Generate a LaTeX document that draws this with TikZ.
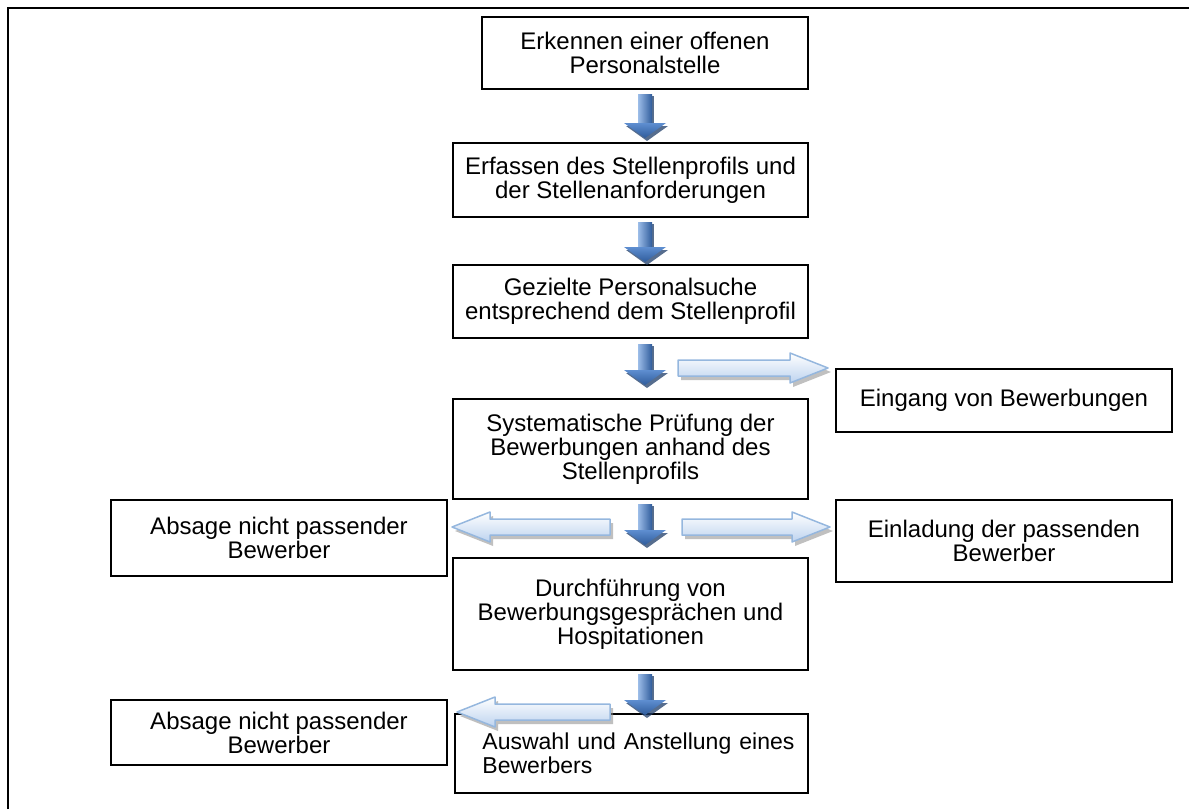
\documentclass[tikz,border=0pt]{standalone}
\usepackage{fontspec}
\setmainfont{Liberation Sans}
\definecolor{arrlight}{HTML}{9CBDE8}
\definecolor{arrmid}{HTML}{5E8ED0}
\definecolor{arrdark}{HTML}{2F5C9C}
\definecolor{arrshadow}{HTML}{1E3C68}
\definecolor{hollowline}{HTML}{95B7DE}
\definecolor{hollowfill}{HTML}{BDD3EF}
\tikzset{
  box/.style={draw=black, line width=1.5pt, fill=white, inner sep=0pt, align=center,
    font=\fontsize{24}{24}\selectfont},
  plaintext/.style={inner sep=0pt, font=\fontsize{23}{24}\selectfont},
  shaftshade/.style={left color=arrlight, right color=arrdark},
  headshade/.style={top color=arrmid, bottom color=arrdark},
  dshadow/.style={fill=arrshadow, opacity=0.75},
  hollowshade/.style={top color=white, bottom color=hollowfill, draw=hollowline, line width=1.5pt, line join=round},
  hshadow/.style={fill=black!45, opacity=0.55},
}
% down arrow: centre x, top y, tip y
\newcommand\mydarrow[3]{%
  \fill[dshadow] ({#1-21+2},{#3-15+3}) -- ({#1+21+2},{#3-15+3}) -- ({#1+2},{#3+3}) -- cycle;
  \fill[dshadow] ({#1+7},{#2+2}) rectangle ({#1+9},{#3-15});
  \shade[shaftshade] ({#1-7},{#2}) rectangle ({#1+7},{#3-14});
  \shade[headshade] ({#1-21},{#3-15}) -- ({#1+21},{#3-15}) -- (#1,#3) -- cycle;
}
% right hollow arrow: tail x, tip x, y
\newcommand\myrarrow[3]{%
  \fill[hshadow] ({#1+3},{#3-8+4}) -- ({#2-38+3},{#3-8+4}) -- ({#2-38+3},{#3-15+4}) -- ({#2+3},{#3+4})
     -- ({#2-38+3},{#3+15+4}) -- ({#2-38+3},{#3+8+4}) -- ({#1+3},{#3+8+4}) -- cycle;
  \shade[hollowshade] (#1,{#3-8}) -- ({#2-38},{#3-8}) -- ({#2-38},{#3-15}) -- (#2,#3)
     -- ({#2-38},{#3+15}) -- ({#2-38},{#3+8}) -- (#1,{#3+8}) -- cycle;
}
% left hollow arrow: tail x, tip x, y
\newcommand\mylarrow[3]{%
  \fill[hshadow] ({#1+3},{#3-8+4}) -- ({#2+38+3},{#3-8+4}) -- ({#2+38+3},{#3-15+4}) -- ({#2+3},{#3+4})
     -- ({#2+38+3},{#3+15+4}) -- ({#2+38+3},{#3+8+4}) -- ({#1+3},{#3+8+4}) -- cycle;
  \shade[hollowshade] (#1,{#3-8}) -- ({#2+38},{#3-8}) -- ({#2+38},{#3-15}) -- (#2,#3)
     -- ({#2+38},{#3+15}) -- ({#2+38},{#3+8}) -- (#1,{#3+8}) -- cycle;
}
\begin{document}
\begin{tikzpicture}[x=1pt,y=-1pt]
\useasboundingbox (0,0) rectangle (1189,809);
% outer frame (left and top only)
\draw[line width=2.5pt] (8,809) -- (8,8) -- (1189,8);

% boxes
\node[box, minimum width=326pt, minimum height=72pt] (b1) at (645,53) {Erkennen einer offenen\\Personalstelle};
\node[box, minimum width=355pt, minimum height=74pt] (b2) at (630.5,180) {Erfassen des Stellenprofils und\\der Stellenanforderungen};
\node[box, minimum width=355pt, minimum height=73pt] (b3) at (630.5,301.5) {Gezielte Personalsuche\\entsprechend dem Stellenprofil};
\node[box, minimum width=336pt, minimum height=63pt] (b4) at (1004,400.5) {Eingang von Bewerbungen};
\node[box, minimum width=355pt, minimum height=100pt] (b5) at (630.5,449) {Systematische Prüfung der\\Bewerbungen anhand des\\Stellenprofils};
\node[box, minimum width=336pt, minimum height=76pt] (b6) at (279,538) {Absage nicht passender\\Bewerber};
\node[box, minimum width=336pt, minimum height=82pt] (b7) at (1004,541) {Einladung der passenden\\Bewerber};
\node[box, minimum width=355pt, minimum height=112pt] (b8) at (630.5,614) {Durchführung von\\Bewerbungsgesprächen und\\Hospitationen};
\node[box, minimum width=336pt, minimum height=65pt] (b9) at (279,732.5) {Absage nicht passender\\Bewerber};
\node[box, minimum width=353pt, minimum height=79pt] (b10) at (631.5,753.5) {};
\node[plaintext, text width=312pt, align=justify, anchor=west] (b10text) at ([xshift=28pt]b10.west) {Auswahl und Anstellung eines Bewerbers};

% down arrows (between the boxes of the main column)
\mydarrow{645}{94}{138}
\mydarrow{645}{222}{262}
\mydarrow{645}{344}{385}
\mydarrow{645}{504}{545}
\mydarrow{645}{674}{715}

% hollow block arrows
\myrarrow{678}{828}{368}
\mylarrow{610}{452}{527}
\myrarrow{682}{830}{527}
\mylarrow{610}{457}{712}
\end{tikzpicture}
\end{document}
